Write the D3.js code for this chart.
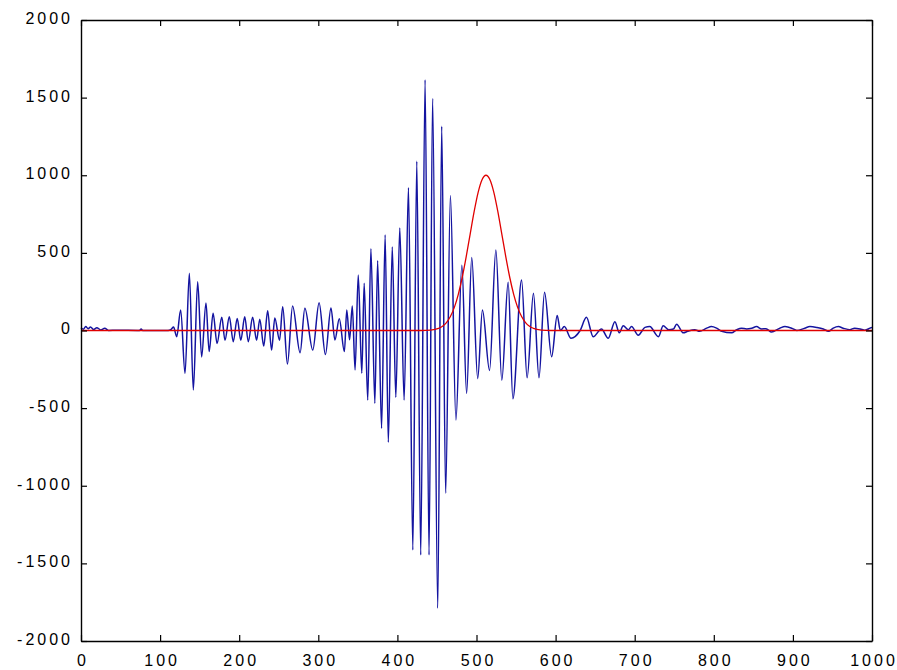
<!DOCTYPE html>
<html lang="en">
<head>
    <meta charset="UTF-8">
    <title>Signal and gaussian window</title>
    <script src="https://d3js.org/d3.v7.min.js"></script>
    <style>
        body { margin: 0; background: #fff; }
        .tick text { font-family: "Liberation Sans", Arial, sans-serif; font-size: 16px; letter-spacing: 3px; fill: #000; }
    </style>
</head>
<body>
    <div class="svg-container"></div>

    <script>

        // blue trace: sample index and amplitude at the turning points
        const sigIndex = [0, 3, 6, 9, 12, 16, 20, 25, 30, 35, 45, 74, 76, 78, 110, 114, 117,
            121, 126, 131.5, 137, 142, 147.5, 152.5, 158, 162, 167, 172, 178, 182, 187.5, 192.5, 197.5,
            202, 207, 211.5, 217, 222, 226, 231, 236, 241, 245, 251, 255, 261, 267.5, 277, 283,
            293, 301, 309, 316, 321, 326.5, 333, 336, 339.5, 343, 346.5, 350.5, 355, 358, 362.5, 366.5,
            371.5, 375, 380, 384.5, 388.5, 393.5, 398, 403, 408.5, 414, 419.5, 424.5, 429.5, 435, 440,
            444.5, 451, 456, 461, 467, 474, 481.5, 487.5, 494, 501.5, 507.5, 516.5, 524.5, 532, 540,
            546, 557, 564, 572, 579, 586, 595, 602, 606, 611, 619.5, 631, 639, 647.5, 658, 666.5,
            675, 680.5, 685.5, 692, 696, 704.5, 713, 719, 730, 736, 743, 749, 753, 761.5, 767, 776,
            782, 791, 797, 803.5, 810, 822.5, 829, 835, 841.5, 848, 854, 860.5, 866, 873, 883.5, 890,
            898.5, 905, 915, 921.5, 930, 938.5, 945, 951, 957.5, 963.5, 972, 978, 985, 991, 997.5, 1000]
        const sigValue = [18, 8, 25, 12, 22, 6, 18, 4, 14, 0, 2, 0, 10, 0, 0, 8, 22,
            -40, 132, -276, 368, -383, 314, -170, 177, -136, 111, -83, 85, -63, 88, -72, 78,
            -63, 88, -72, 85, -63, 73, -100, 128, -126, 80, -63, 153, -216, 158, -143, 143,
            -126, 179, -155, 145, -61, 75, -136, 132, -60, 158, -254, 357, -276, 304, -448, 526,
            -469, 450, -630, 615, -720, 538, -430, 660, -448, 920, -1414, 1090, -1446, 1615, -1446,
            1495, -1789, 1315, -1049, 870, -576, 420, -405, 470, -310, 132, -257, 519, -320, 310,
            -440, 325, -305, 240, -305, 247, -169, 97, 0, 25, -50, 0, 85, -40, 10, -50,
            57, -15, 30, 5, 25, -30, 20, 25, -40, 30, 5, 10, 40, -15, -5, 5,
            -5, 15, 25, 15, -5, -15, 5, 15, 10, 15, 25, 10, 12, -10, 15, 25,
            15, 0, 15, 25, 20, 10, -5, 15, 25, 15, 5, 15, 10, 2, 15, 20]

        // red trace: bell shaped window
        const winIndex = [0, 430, 442, 452, 457, 462, 467, 472, 477, 482, 487, 492, 497, 502, 507, 512,
            517, 522, 527, 532, 537, 542, 547, 552, 557, 562, 567, 572, 582, 594, 1000]
        const winValue = [0, 0, 3, 14, 27, 51, 90, 149, 233, 343, 476, 621, 765, 888, 971, 1000,
            971, 888, 765, 621, 476, 343, 233, 149, 90, 51, 27, 14, 3, 0, 0]

        const xTicks = [0, 100, 200, 300, 400, 500, 600, 700, 800, 900, 1000]
        const yTicks = [-2000, -1500, -1000, -500, 0, 500, 1000, 1500, 2000]

        // set the dimensions and margins of the graph
        const margin = { top: 20, right: 25, bottom: 29, left: 81 };
        const width = 897 - margin.left - margin.right;
        const height = 670 - margin.top - margin.bottom;

        const svg = d3.select(".svg-container")
          .append("svg")
            .attr("width", 897)
            .attr("height", 670)
          .append("g")
            .attr("transform", "translate(" + margin.left + "," + margin.top + ")");

        const x = d3.scaleLinear()
            .domain([0, 1000])
            .range([0, width])

        const y = d3.scaleLinear()
            .domain([-2000, 2000])
            .range([height, 0])

        const blue = sigIndex.map((d, i) => [d, sigValue[i]])
        const red = winIndex.map((d, i) => [d, winValue[i]])

        const line = d3.line()
            .x(d => x(d[0]))
            .y(d => y(d[1]))
            .curve(d3.curveMonotoneX)

        svg.append("path")
            .datum(blue)
            .attr("fill", "none")
            .attr("stroke", "#1414a0")
            .attr("stroke-width", 1.5)
            .attr("d", line)

        svg.append("path")
            .datum(red)
            .attr("fill", "none")
            .attr("stroke", "#e00000")
            .attr("stroke-width", 1.3)
            .attr("d", line)

        // plain labels like "-500", no thousands separator
        const plain = d => String(d)

        // box with inward ticks on all four sides
        const bottom = svg.append("g")
            .attr("transform", "translate(0," + height + ")")
            .call(d3.axisBottom(x).tickValues(xTicks).tickSize(-6).tickSizeOuter(0).tickFormat(plain))
        bottom.selectAll("text").attr("y", 25).attr("dy", null).attr("dx", "1.5px")

        const left = svg.append("g")
            .call(d3.axisLeft(y).tickValues(yTicks).tickSize(-6).tickSizeOuter(0).tickFormat(plain))
        left.selectAll("text").attr("x", -8).attr("dy", "0.21em")

        svg.append("g")
            .call(d3.axisTop(x).tickValues(xTicks).tickSize(-6).tickSizeOuter(0).tickFormat(""))

        svg.append("g")
            .attr("transform", "translate(" + width + ",0)")
            .call(d3.axisRight(y).tickValues(yTicks).tickSize(-6).tickSizeOuter(0).tickFormat(""))

        svg.selectAll(".domain").attr("stroke", "#000").attr("stroke-width", 1.4)
        svg.selectAll(".tick line").attr("stroke", "#000").attr("stroke-width", 1.2)

    </script>
</body>
</html>
